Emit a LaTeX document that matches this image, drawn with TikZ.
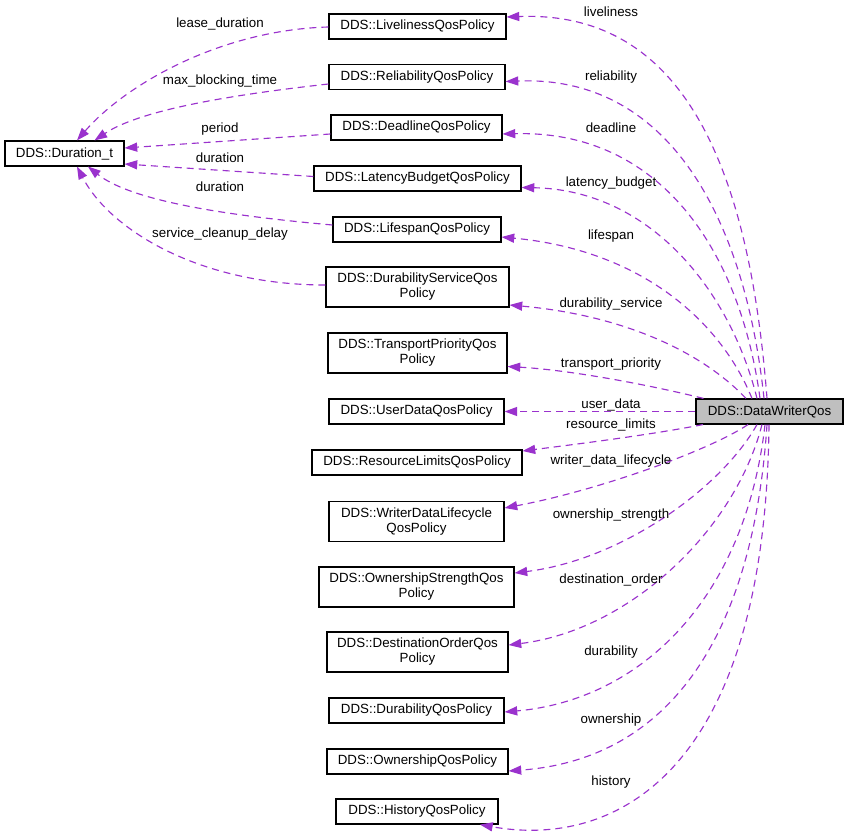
\documentclass[tikz,border=0pt]{standalone}
\usepackage{fontspec}
\setmainfont{Liberation Sans}
\usetikzlibrary{arrows.meta,calc}
\definecolor{edgec}{HTML}{9A32CD}
\definecolor{dwqfill}{HTML}{BFBFBF}
\begin{document}
\begin{tikzpicture}[x=0.75pt,y=-0.75pt,
  box/.style={draw=black, line width=0.85pt, fill=white, inner sep=0pt, align=center,
    font=\fontsize{10}{11.25}\selectfont},
  wd/.style={minimum width=#1*0.75pt},
  ht/.style={minimum height=#1*0.75pt},
  lbl/.style={font=\fontsize{10}{12}\selectfont, inner sep=0pt, anchor=base},
  conn/.style={draw=edgec, line width=0.85pt, dash pattern=on 5.25pt off 3.75pt,
    -{Triangle[length=9.5pt,width=6.8pt]}}]
\useasboundingbox[fill=white] (0,0) rectangle (848,834);

% nodes
\node[box, wd=119, ht=25] (dur) at (64.5,153.5) {DDS::Duration\_t};
\node[box, wd=177, ht=25] (live) at (417.5,26.5) {DDS::LivelinessQosPolicy};
\node[box, wd=176, ht=25] (rel) at (417,77) {DDS::ReliabilityQosPolicy};
\node[box, wd=171, ht=25] (dead) at (416.5,127.5) {DDS::DeadlineQosPolicy};
\node[box, wd=207, ht=25] (lat) at (417.5,178.5) {DDS::LatencyBudgetQosPolicy};
\node[box, wd=168, ht=25] (life) at (417,229.5) {DDS::LifespanQosPolicy};
\node[box, wd=183, ht=40] (dserv) at (417.5,287) {DDS::DurabilityServiceQos\\Policy};
\node[box, wd=179, ht=40] (tprio) at (417.5,353) {DDS::TransportPriorityQos\\Policy};
\node[box, wd=175, ht=25] (udata) at (416.5,411.5) {DDS::UserDataQosPolicy};
\node[box, wd=210, ht=25] (rlim) at (417,462.5) {DDS::ResourceLimitsQosPolicy};
\node[box, wd=175, ht=40] (wdl) at (416.5,521.5) {DDS::WriterDataLifecycle\\QosPolicy};
\node[box, wd=195, ht=40] (ostr) at (416.5,587) {DDS::OwnershipStrengthQos\\Policy};
\node[box, wd=181, ht=40] (dord) at (417.5,652) {DDS::DestinationOrderQos\\Policy};
\node[box, wd=175, ht=25] (dura) at (416.5,710.5) {DDS::DurabilityQosPolicy};
\node[box, wd=181, ht=25] (own) at (417.5,761.5) {DDS::OwnershipQosPolicy};
\node[box, wd=162, ht=25] (hist) at (417,811.5) {DDS::HistoryQosPolicy};
\node[box, wd=147, ht=25, fill=dwqfill] (dwq) at (769.5,411.5) {DDS::DataWriterQos};

% edges from DataWriterQos
\draw[conn] ($(dwq.north)+(-2.5,0)$) .. controls (750,180) and (690,10) .. ($(live.east)+(0,-9.5)$);
\draw[conn] ($(dwq.north)+(-5.5,0)$) .. controls (745,220) and (670,75) .. ($(rel.east)+(0,4.5)$);
\draw[conn] ($(dwq.north)+(-9.5,0)$) .. controls (740,250) and (660,130) .. ($(dead.east)+(0,6.5)$);
\draw[conn] ($(dwq.north)+(-12.5,0)$) .. controls (730,290) and (650,190) .. ($(lat.east)+(0,9)$);
\draw[conn] ($(dwq.north)+(-17.5,0)$) .. controls (720,320) and (640,250) .. ($(life.east)+(0,7.5)$);
\draw[conn] ($(dwq.north)+(-23.5,0)$) .. controls (700,350) and (620,315) .. ($(dserv.east)+(0,18)$);
\draw[conn] ($(dwq.north)+(-66,0)$) .. controls (650,385) and (570,370) .. ($(tprio.east)+(0,13.5)$);
\draw[conn] (dwq.west) -- (udata.east);
\draw[conn] ($(dwq.south)+(-66.5,0)$) .. controls (650,435) and (570,445) .. ($(rlim.east)+(0,-11.5)$);
\draw[conn] ($(dwq.south)+(-21.5,0)$) .. controls (710,450) and (600,490) .. ($(wdl.east)+(0,-13.5)$);
\draw[conn] ($(dwq.south)+(-12.5,0)$) .. controls (720,490) and (620,560) .. ($(ostr.east)+(0,-14)$);
\draw[conn] ($(dwq.south)+(-7.5,0)$) .. controls (735,530) and (630,630) .. ($(dord.east)+(0,-7)$);
\draw[conn] ($(dwq.south)+(-4.5,0)$) .. controls (745,600) and (640,700) .. ($(dura.east)+(0,1.5)$);
\draw[conn] ($(dwq.south)+(-2.5,0)$) .. controls (752,650) and (660,760) .. ($(own.east)+(0,9.5)$);
\draw[conn] ($(dwq.south)+(-0.5,0)$) .. controls (765,780) and (610,848) .. ($(hist.south)+(63,0)$);

% edges to Duration_t
\draw[conn] ($(live.west)+(0,0.5)$) .. controls (220,30) and (125,85) .. ($(dur.north)+(12.5,0)$);
\draw[conn] ($(rel.west)+(0,7)$) .. controls (230,95) and (140,110) .. ($(dur.north)+(30,0)$);
\draw[conn] ($(dead.west)+(0,6.5)$) -- ($(dur.east)+(0,-5.5)$);
\draw[conn] ($(lat.west)+(0,-2)$) -- ($(dur.east)+(0,10.5)$);
\draw[conn] ($(life.west)+(0,-4.5)$) .. controls (220,215) and (130,200) .. ($(dur.south)+(23.5,0)$);
\draw[conn] ($(dserv.west)+(0,-2)$) .. controls (200,285) and (110,230) .. ($(dur.south)+(12.5,0)$);

% labels
\node[lbl] (la) at (220,28) {lease\_duration};
\node[lbl] (lb) at (220,85) {max\_blocking\_time};
\node[lbl] (lc) at (220,133) {period};
\node[lbl] (ld) at (220,163) {duration};
\node[lbl] (le) at (220,191) {duration};
\node[lbl] (lf) at (220,237) {service\_cleanup\_delay};

\node[lbl] (r1) at (611,17) {liveliness};
\node[lbl] (r2) at (611,81) {reliability};
\node[lbl] (r3) at (611,133) {deadline};
\node[lbl] (r4) at (611,186) {latency\_budget};
\node[lbl] (r5) at (611,239) {lifespan};
\node[lbl] (r6) at (611,307) {durability\_service};
\node[lbl] (r7) at (611,367) {transport\_priority};
\node[lbl] (r8) at (611,408) {user\_data};
\node[lbl] (r9) at (611,428) {resource\_limits};
\node[lbl] (r10) at (611,464) {writer\_data\_lifecycle};
\node[lbl] (r11) at (611,518) {ownership\_strength};
\node[lbl] (r12) at (611,583) {destination\_order};
\node[lbl] (r13) at (611,655) {durability};
\node[lbl] (r14) at (611,723) {ownership};
\node[lbl] (r15) at (611,785) {history};
\end{tikzpicture}
\end{document}
